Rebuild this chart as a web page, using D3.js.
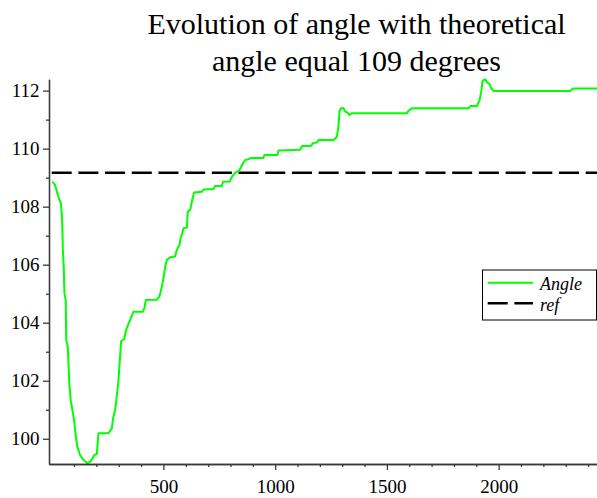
<!DOCTYPE html>
<html>
<head>
<meta charset="utf-8">
<script src="https://cdn.jsdelivr.net/npm/d3@7"></script>
<style>
  html, body { margin: 0; padding: 0; background: #fff; }
  svg { display: block; }
</style>
</head>
<body>
<svg id="chart" width="597" height="498"></svg>
<script>
// ---- data ----
const titleLines = ["Evolution of angle with theoretical", "angle equal 109 degrees"];
const angleX = [3, 15, 30, 41, 45, 48, 50, 54, 57, 63, 65, 72, 75, 79, 85, 93, 102, 108, 115, 127,
  142, 161, 172, 182, 191, 202, 209, 254, 269, 276, 284, 291, 299, 306, 311, 324, 333, 366, 408, 415,
  421, 470, 482, 493, 500, 508, 515, 530, 552, 560, 572, 577, 582, 590, 605, 609, 620, 627, 637, 672,
  679, 724, 731, 761, 767, 797, 806, 821, 839, 858, 866, 880, 891, 946, 953, 1010, 1015, 1112, 1120, 1160,
  1169, 1187, 1194, 1261, 1276, 1283, 1288, 1294, 1306, 1313, 1324, 1333, 1343, 1590, 1597, 1612, 1865, 1873, 1903, 1915,
  1922, 1928, 1940, 1948, 1959, 1967, 1977, 2320, 2333, 2440];
const angleY = [108.86, 108.75, 108.34, 108.12, 107.77, 107.20, 106.51, 105.93, 105.01, 104.78, 103.40, 103.17, 102.60, 101.91, 101.33, 100.99, 100.53, 100.07, 99.72, 99.44,
  99.27, 99.16, 99.21, 99.32, 99.44, 99.47, 100.19, 100.19, 100.36, 100.76, 100.99, 101.45, 102.02, 102.83, 103.37, 103.43, 103.75, 104.38, 104.38, 104.50,
  104.78, 104.79, 104.90, 105.24, 105.53, 105.93, 106.16, 106.26, 106.28, 106.51, 106.68, 106.92, 107.02, 107.26, 107.28, 107.83, 107.89, 108.17, 108.49, 108.51,
  108.59, 108.61, 108.71, 108.71, 108.86, 108.87, 109.02, 109.17, 109.24, 109.52, 109.61, 109.63, 109.68, 109.68, 109.78, 109.78, 109.94, 109.96, 110.09, 110.09,
  110.19, 110.21, 110.30, 110.30, 110.41, 110.76, 111.28, 111.39, 111.39, 111.28, 111.24, 111.16, 111.22, 111.22, 111.31, 111.39, 111.39, 111.47, 111.47, 111.68,
  111.97, 112.34, 112.39, 112.28, 112.23, 112.08, 111.99, 111.99, 112.07, 112.07];
const refX = [0, 2440];
const refY = [109.17, 109.17];
const legendLabels = ["Angle", "ref"];
const xMajorTicks = [500, 1000, 1500, 2000];
const xMinorTicks = [100, 200, 300, 400, 600, 700, 800, 900, 1100, 1200, 1300, 1400, 1600, 1700, 1800, 1900, 2100, 2200, 2300, 2400];
const yMajorTicks = [100, 102, 104, 106, 108, 110, 112];
const yMinorTicks = [101, 103, 105, 107, 109, 111];
const xDomain = [-12, 2440];
const yDomain = [99.13, 112.39];

// ---- chart ----
const FONT = "Liberation Serif";
const svg = d3.select("#chart");
const x = d3.scaleLinear().domain(xDomain).range([49, 597]);
const y = d3.scaleLinear().domain(yDomain).range([464, 79.3]);
const axisColor = "#3a3a3a";

// title
svg.append("g").selectAll("text").data(titleLines).join("text")
  .attr("x", 356.5).attr("y", (d, i) => 34 + i * 37)
  .attr("text-anchor", "middle")
  .style("font-family", FONT).style("font-size", "30px").style("fill", "#000")
  .text(d => d);

// ref line
const refData = refX.map((v, i) => [v, refY[i]]);
svg.append("path").datum(refData)
  .attr("d", d3.line().x(d => x(d[0])).y(d => y(d[1])))
  .attr("fill", "none").attr("stroke", "#000").attr("stroke-width", 2.5)
  .attr("stroke-dasharray", "20,6.7");

// angle line
const angleData = angleX.map((v, i) => [v, angleY[i]]);
svg.append("path").datum(angleData)
  .attr("d", d3.line().x(d => x(d[0])).y(d => y(d[1])))
  .attr("fill", "none").attr("stroke", "#00ff00").attr("stroke-width", 2)
  .attr("stroke-linejoin", "round");

// axes
function styleAxis(g) {
  g.selectAll("path, line").attr("stroke", axisColor).attr("stroke-width", 1.3);
  g.selectAll("text").style("fill", "#000").style("font-family", FONT).style("font-size", "19px");
}
svg.append("g").attr("transform", "translate(0,464)")
  .call(d3.axisBottom(x).tickValues(xMinorTicks).tickSize(3).tickSizeOuter(0).tickFormat(""))
  .call(styleAxis);
svg.append("g").attr("transform", "translate(0,464)")
  .call(d3.axisBottom(x).tickValues(xMajorTicks).tickSize(6).tickSizeOuter(0).tickPadding(10).tickFormat(d3.format("d")))
  .call(styleAxis);
svg.append("g").attr("transform", "translate(49,0)")
  .call(d3.axisLeft(y).tickValues(yMinorTicks).tickSize(3).tickSizeOuter(0).tickFormat(""))
  .call(styleAxis);
svg.append("g").attr("transform", "translate(49,0)")
  .call(d3.axisLeft(y).tickValues(yMajorTicks).tickSize(6).tickSizeOuter(0).tickPadding(3.5).tickFormat(d3.format("d")))
  .call(styleAxis);

// legend
const lg = svg.append("g");
lg.append("rect").attr("x", 482.5).attr("y", 270).attr("width", 114).attr("height", 50)
  .attr("fill", "#fff").attr("stroke", "#000").attr("stroke-width", 1);
const legendStyles = [{ stroke: "#00ff00", dash: null, w: 2 }, { stroke: "#000", dash: "20,6.7", w: 2.5 }];
legendLabels.forEach((lab, i) => {
  const cy = 282.7 + i * 20.6;
  lg.append("line").attr("x1", 487.7).attr("x2", 533).attr("y1", cy).attr("y2", cy)
    .attr("stroke", legendStyles[i].stroke).attr("stroke-width", legendStyles[i].w)
    .attr("stroke-dasharray", legendStyles[i].dash);
  lg.append("text").attr("x", 540).attr("y", cy + 7.5)
    .style("font-family", FONT).style("font-size", "18px").style("font-style", "italic").style("fill", "#000")
    .text(lab);
});
</script>
</body>
</html>
